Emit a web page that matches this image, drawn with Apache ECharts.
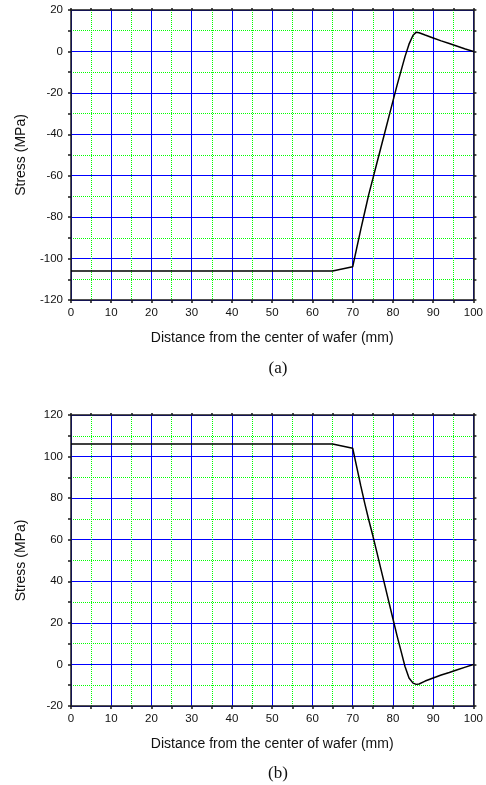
<!DOCTYPE html>
<html>
<head>
<meta charset="utf-8">
<script src="https://cdn.jsdelivr.net/npm/echarts@6/dist/echarts.min.js"></script>
<style>
  html, body { margin: 0; padding: 0; background: #fff; }
  #chart { width: 486px; height: 785px; }
</style>
</head>
<body>
<div id="chart"></div>
<script>
// distance from the wafer centre (mm)
const distance = [0, 65, 70, 71, 72, 73, 74, 75, 76, 77, 78, 79, 80, 81, 82, 83, 84, 85, 85.8, 86.5, 88, 90, 92, 94, 96, 98, 100];
// stress (MPa), panel (a)
const stressA = [-106, -106, -104, -95, -86, -77.5, -69, -61.5, -54, -46.5, -39, -31.5, -24, -16.5, -9.5, -2.5, 3.5, 7.8, 9.3, 9.0, 7.9, 6.5, 5.1, 3.8, 2.5, 1.2, 0];
// stress (MPa), panel (b)
const stressB = [106, 106, 104, 95, 86, 77.5, 69.5, 62, 54, 46, 38, 30, 22, 14, 6.5, -1, -6.5, -9, -9.6, -9.4, -8, -6.5, -5.1, -3.9, -2.6, -1.3, 0];

const xTicks = { min: 0, max: 100, interval: 10 };
const yTicksA = { min: -120, max: 20, interval: 20 };
const yTicksB = { min: -20, max: 120, interval: 20 };

const FONT = '"Liberation Sans", Arial, sans-serif';
const axisColor = '#1a1a1a';

function pairs(xs, ys) {
  return xs.map((x, i) => [x, ys[i]]);
}

function bottomAxis(grid) {
  return {
    type: 'value',
    gridIndex: grid,
    position: 'bottom',
    ...xTicks,
    name: 'Distance from the center of wafer (mm)',
    nameLocation: 'middle',
    nameGap: 31,
    nameTextStyle: { fontFamily: FONT, fontSize: 14, color: '#111' },
    axisLine: { onZero: false, lineStyle: { color: axisColor, width: 1.5 } },
    axisTick: { inside: false, length: 3, lineStyle: { color: axisColor, width: 1.5 } },
    minorTick: { show: true, splitNumber: 2, length: 3, lineStyle: { color: axisColor, width: 1.5 } },
    axisLabel: { fontFamily: FONT, fontSize: 11.5, color: '#111', margin: 7 },
    splitLine: { show: true, lineStyle: { color: '#0000ff', width: 1 } },
    minorSplitLine: { show: true, lineStyle: { color: '#00ff00', width: 1, type: 'dotted' } }
  };
}

function topAxis(grid) {
  return {
    type: 'value',
    gridIndex: grid,
    position: 'top',
    ...xTicks,
    axisLine: { onZero: false, lineStyle: { color: axisColor, width: 1.5 } },
    axisTick: { inside: false, length: 2, lineStyle: { color: axisColor, width: 1.5 } },
    minorTick: { show: true, splitNumber: 2, length: 2, lineStyle: { color: axisColor, width: 1.5 } },
    axisLabel: { show: false },
    splitLine: { show: false }
  };
}

function leftAxis(grid, ticks) {
  return {
    type: 'value',
    gridIndex: grid,
    position: 'left',
    ...ticks,
    name: 'Stress (MPa)',
    nameLocation: 'middle',
    nameGap: 43,
    nameTextStyle: { fontFamily: FONT, fontSize: 14, color: '#111' },
    axisLine: { onZero: false, lineStyle: { color: axisColor, width: 1.5 } },
    axisTick: { inside: false, length: 3, lineStyle: { color: axisColor, width: 1.5 } },
    minorTick: { show: true, splitNumber: 2, length: 3, lineStyle: { color: axisColor, width: 1.5 } },
    axisLabel: { fontFamily: FONT, fontSize: 11.5, color: '#111', margin: 8 },
    splitLine: { show: true, lineStyle: { color: '#0000ff', width: 1 } },
    minorSplitLine: { show: true, lineStyle: { color: '#00ff00', width: 1, type: 'dotted' } }
  };
}

function rightAxis(grid, ticks) {
  return {
    type: 'value',
    gridIndex: grid,
    position: 'right',
    ...ticks,
    axisLine: { onZero: false, lineStyle: { color: axisColor, width: 1.5 } },
    axisTick: { inside: false, length: 3, lineStyle: { color: axisColor, width: 1.5 } },
    minorTick: { show: true, splitNumber: 2, length: 3, lineStyle: { color: axisColor, width: 1.5 } },
    axisLabel: { show: false },
    splitLine: { show: false }
  };
}

const chart = echarts.init(document.getElementById('chart'), null, { renderer: 'canvas' });

chart.setOption({
  animation: false,
  backgroundColor: '#fff',
  title: [
    { text: '(a)', left: 273, top: 355, textAlign: 'center',
      textStyle: { fontFamily: '"Liberation Serif", "Times New Roman", serif', fontSize: 17, fontWeight: 'normal', color: '#111' } },
    { text: '(b)', left: 273, top: 760, textAlign: 'center',
      textStyle: { fontFamily: '"Liberation Serif", "Times New Roman", serif', fontSize: 17, fontWeight: 'normal', color: '#111' } }
  ],
  grid: [
    { left: 71, top: 10, width: 405, height: 290 },
    { left: 71, top: 415, width: 405, height: 291 }
  ],
  xAxis: [bottomAxis(0), topAxis(0), bottomAxis(1), topAxis(1)],
  yAxis: [leftAxis(0, yTicksA), rightAxis(0, yTicksA), leftAxis(1, yTicksB), rightAxis(1, yTicksB)],
  series: [
    {
      type: 'line',
      xAxisIndex: 0,
      yAxisIndex: 0,
      data: pairs(distance, stressA),
      showSymbol: false,
      lineStyle: { color: '#000', width: 1.5 },
      z: 5
    },
    {
      type: 'line',
      xAxisIndex: 2,
      yAxisIndex: 2,
      data: pairs(distance, stressB),
      showSymbol: false,
      lineStyle: { color: '#000', width: 1.5 },
      z: 5
    }
  ]
});
</script>
</body>
</html>
